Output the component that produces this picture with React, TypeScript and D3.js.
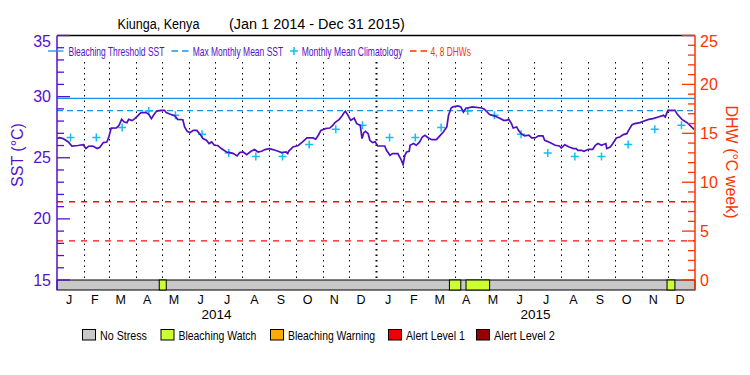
import React from "react";
import * as d3 from "d3";

// daily SST (day offset from Jan 1 2014, °C)
const sstDay = [
  0, 3, 7, 13, 17, 24, 30, 33, 36, 41, 46, 49, 53, 57, 59, 62, 68, 71, 74, 77, 80, 82, 86, 89, 92, 96,
  102, 105, 108, 111, 114, 119, 123, 125, 129, 135, 138, 144, 146, 149, 152, 156, 160, 164, 167, 171,
  174, 177, 180, 184, 188, 194, 198, 202, 206, 209, 213, 217, 222, 226, 230, 234, 238, 243, 247, 253,
  257, 262, 264, 265, 270, 276, 281, 286, 293, 296, 299, 302, 307, 312, 315, 318, 323, 326, 329, 330,
  333, 336, 338, 340, 343, 347, 349, 351, 353, 356, 358, 361, 364, 367, 375, 377, 381, 384, 390, 392,
  394, 396, 398, 400, 403, 404, 408, 411, 415, 418, 421, 425, 429, 434, 438, 442, 446, 448, 451, 453,
  459, 462, 465, 468, 470, 475, 486, 489, 495, 501, 506, 511, 514, 517, 520, 522, 526, 528, 531, 535,
  540, 543, 547, 551, 556, 558, 564, 570, 575, 577, 581, 586, 591, 594, 596, 600, 603, 608, 613, 616,
  619, 623, 628, 629, 633, 636, 640, 644, 648, 652, 654, 658, 661, 667, 671, 677, 682, 688, 694, 696,
  699, 707, 710, 715, 721, 726, 729,
];
const sstValue = [
  26.57, 26.65, 26.57, 26.29, 25.96, 26.0, 26.07, 25.75, 25.94, 25.96, 25.75, 25.86, 26.24, 26.29, 26.62,
  27.43, 27.45, 27.65, 28.14, 27.92, 27.87, 28.14, 28.04, 28.2, 28.41, 28.69, 28.69, 28.55, 28.2, 28.53,
  28.82, 28.88, 28.88, 28.69, 28.58, 28.41, 28.14, 28.11, 27.52, 27.16, 27.05, 27.24, 27.24, 26.89,
  26.57, 26.43, 26.16, 26.29, 26.02, 26.0, 25.75, 25.47, 25.42, 25.34, 25.15, 25.42, 25.47, 25.26,
  25.53, 25.67, 25.47, 25.53, 25.67, 25.75, 25.67, 25.53, 25.42, 25.47, 25.34, 25.53, 25.88, 26.0,
  26.29, 26.62, 26.62, 26.52, 26.84, 27.24, 27.38, 27.43, 27.6, 27.87, 28.14, 28.41, 28.74, 28.8, 28.47,
  28.06, 28.14, 28.25, 27.79, 27.65, 26.57, 27.05, 27.16, 26.97, 26.43, 26.24, 26.3, 25.96, 25.96,
  25.61, 25.2, 25.34, 25.34, 25.07, 24.8, 24.45, 25.2, 25.47, 25.53, 26.02, 26.16, 26.02, 26.29, 26.7,
  26.84, 26.62, 26.48, 26.48, 26.79, 27.1, 27.52, 28.47, 29.07, 29.16, 29.24, 29.16, 28.74, 29.07,
  29.07, 29.16, 29.07, 28.98, 28.53, 28.41, 28.25, 28.06, 28.06, 28.14, 27.79, 27.43, 27.52, 27.24,
  26.97, 26.79, 26.84, 26.62, 26.62, 26.79, 26.79, 26.43, 26.24, 26.02, 25.96, 25.8, 26.07, 25.88,
  25.75, 25.75, 25.61, 25.61, 25.53, 25.69, 25.69, 26.02, 26.16, 26.02, 26.16, 25.75, 25.88, 26.16,
  26.62, 26.7, 26.89, 26.97, 27.24, 27.71, 27.79, 27.87, 27.98, 28.14, 28.2, 28.33, 28.47, 28.33,
  28.88, 28.88, 28.53, 28.14, 27.87, 27.52, 27.33,
];

// monthly mean climatology, Jan..Dec (same for both years)
const climatology = [26.65, 26.65, 27.47, 28.82, 28.47, 26.92, 25.39, 25.1, 25.1, 26.08, 27.33, 27.65];
const mmm = 28.85;
const bleachingThreshold = 29.85;
const dhwLevels = [4, 8];

const monthLetters = ["J", "F", "M", "A", "M", "J", "J", "A", "S", "O", "N", "D"];
const years = [2014, 2015];
const sstTicks = d3.range(15, 36);
const dhwTicks = d3.range(0, 26);

// alert periods in the stress bar
const watchPeriods = [
  ["2014-04-28", "2014-05-06"],
  ["2015-03-26", "2015-04-08"],
  ["2015-04-14", "2015-05-11"],
  ["2015-11-30", "2015-12-09"],
];

const stressLegend = [
  { name: "No Stress", color: "#c8c8c8" },
  { name: "Bleaching Watch", color: "#ccff33" },
  { name: "Bleaching Warning", color: "#ffaa00" },
  { name: "Alert Level 1", color: "#f00000" },
  { name: "Alert Level 2", color: "#960000" },
];

const W = 750;
const H = 375;
const L = 57;
const R = 695;
const TOP = 35.5;
const BOT = 280;
const FONT = "Liberation Sans";
const PURPLE = "#5511cc";
const RED = "#ff3300";
const BLUE = "#1e90e0";
const CYAN = "#10c0f0";

const parse = d3.timeParse("%Y-%m-%d");
const start = new Date(2014, 0, 1);
const end = new Date(2016, 0, 1);

// text squeezed horizontally to a given width (the original font is narrow)
const Fit = ({ x, y, width, children, ...rest }: any) => {
  const ref = React.useRef<SVGTextElement>(null);
  const [sx, setSx] = React.useState(1);
  React.useLayoutEffect(() => {
    if (ref.current) {
      const w = ref.current.getComputedTextLength();
      if (w > 0) setSx(width / w);
    }
  }, [width]);
  return (
    <text ref={ref} transform={`translate(${x},${y}) scale(${sx},1)`} {...rest}>
      {children}
    </text>
  );
};

export default function App() {
  const x = d3.scaleTime().domain([start, end]).range([L, R]);
  const ySst = d3.scaleLinear().domain([15, 35]).range([BOT, TOP]);
  const yDhw = d3.scaleLinear().domain([0, 25]).range([BOT, TOP]);

  const pts = sstDay.map((d, i) => [d3.timeDay.offset(start, d), sstValue[i]] as [Date, number]);
  const line = d3
    .line<[Date, number]>()
    .x((d) => x(d[0]))
    .y((d) => ySst(d[1]));

  const months = d3.timeMonth.range(start, end);

  const legendX = [82, 160.5, 270, 388, 476];
  const legendW = [47, 78, 87, 59, 61];

  return (
    <svg
      width={W}
      height={H}
      style={{ position: "absolute", left: 0, top: 0, background: "#fff" }}
      fontFamily={FONT}
    >
      <rect width={W} height={H} fill="#fff" />
      {/* title */}
      <Fit x={117.5} y={28.5} width={82} fontSize={15.5}>
        Kiunga, Kenya
      </Fit>
      <Fit x={229} y={28.5} width={176} fontSize={15.5}>
        (Jan 1 2014 - Dec 31 2015)
      </Fit>

      {/* month grid */}
      {months.slice(1).map((m, i) => (
        <line
          key={i}
          x1={Math.round(x(m)) + 0.5}
          x2={Math.round(x(m)) + 0.5}
          y1={62}
          y2={BOT}
          stroke="#000"
          strokeWidth={m.getMonth() === 0 ? 2 : 1}
          strokeDasharray="1.5,4"
        />
      ))}

      {/* reference lines */}
      <line x1={L} x2={R} y1={ySst(bleachingThreshold)} y2={ySst(bleachingThreshold)} stroke={BLUE} strokeWidth={1.3} />
      <line x1={L} x2={R} y1={ySst(mmm)} y2={ySst(mmm)} stroke={BLUE} strokeWidth={1.3} strokeDasharray="6,4" />
      {dhwLevels.map((v) => (
        <line key={v} x1={L} x2={R} y1={yDhw(v)} y2={yDhw(v)} stroke="#ee1111" strokeWidth={1.3} strokeDasharray="6,6" />
      ))}

      {/* climatology */}
      {years.map((yr) =>
        climatology.map((v, i) => {
          const m0 = new Date(yr, i, 1);
          const m1 = new Date(yr, i + 1, 1);
          const cx = (x(m0) + x(m1)) / 2;
          const cy = ySst(v);
          return (
            <path
              key={`${yr}-${i}`}
              d={`M${cx - 4},${cy}H${cx + 4}M${cx},${cy - 4}V${cy + 4}`}
              stroke={CYAN}
              strokeWidth={1.5}
            />
          );
        })
      )}

      {/* SST */}
      <path d={line(pts) || ""} fill="none" stroke="#5010c0" strokeWidth={1.7} />

      {/* stress bar */}
      <rect x={L} y={BOT} width={R - L} height={10} fill="#c8c8c8" stroke="#000" strokeWidth={1} />
      {watchPeriods.map(([a, b], i) => (
        <rect
          key={i}
          x={x(parse(a)!)}
          y={BOT}
          width={x(parse(b)!) - x(parse(a)!)}
          height={10}
          fill="#ccff33"
          stroke="#000"
          strokeWidth={1}
        />
      ))}

      {/* frame */}
      <line x1={L} x2={R} y1={TOP} y2={TOP} stroke="#000" strokeWidth={1.3} />
      <line x1={L} x2={L} y1={TOP} y2={290} stroke={PURPLE} strokeWidth={1.5} />
      <line x1={R} x2={R} y1={TOP} y2={290} stroke={RED} strokeWidth={1.5} />

      {/* left axis */}
      {sstTicks.map((v) => (
        <line
          key={v}
          x1={L}
          x2={L + (v % 5 === 0 ? 13 : 7)}
          y1={ySst(v)}
          y2={ySst(v)}
          stroke={PURPLE}
          strokeWidth={1.3}
        />
      ))}
      {sstTicks
        .filter((v) => v % 5 === 0)
        .map((v) => (
          <text
            key={v}
            x={51}
            y={Math.max(ySst(v), 41)}
            fontSize={16}
            fill={PURPLE}
            textAnchor="end"
            dominantBaseline="central"
          >
            {v}
          </text>
        ))}
      <text
        transform="translate(17,155) rotate(-90)"
        fontSize={16}
        fill={PURPLE}
        textAnchor="middle"
        dominantBaseline="central"
      >
        SST (°C)
      </text>

      {/* right axis */}
      {dhwTicks.map((v) => (
        <line
          key={v}
          x1={R}
          x2={R - (v % 5 === 0 ? 13 : 7)}
          y1={yDhw(v)}
          y2={yDhw(v)}
          stroke={RED}
          strokeWidth={1.3}
        />
      ))}
      {dhwTicks
        .filter((v) => v % 5 === 0)
        .map((v) => (
          <text key={v} x={700} y={Math.max(yDhw(v), 41)} fontSize={16} fill={RED} dominantBaseline="central">
            {v}
          </text>
        ))}
      <text
        transform="translate(731,162) rotate(90)"
        fontSize={16}
        fill={RED}
        textAnchor="middle"
        dominantBaseline="central"
      >
        DHW (°C week)
      </text>

      {/* top legend */}
      <g fontSize={12}>
        <line x1={48} x2={63.5} y1={51} y2={51} stroke={BLUE} strokeWidth={1.3} />
        <Fit x={68.5} y={55.5} width={96} fill={PURPLE}>
          Bleaching Threshold SST
        </Fit>
        <line x1={171.5} x2={188.5} y1={51} y2={51} stroke={BLUE} strokeWidth={1.3} strokeDasharray="6.5,4" />
        <Fit x={192.7} y={55.5} width={90.6} fill={PURPLE}>
          Max Monthly Mean SST
        </Fit>
        <path d="M290,51H298M294,47V55" stroke={CYAN} strokeWidth={1.5} />
        <Fit x={301.7} y={55.5} width={101} fill={PURPLE}>
          Monthly Mean Climatology
        </Fit>
        <line x1={410} x2={427} y1={51} y2={51} stroke={RED} strokeWidth={1.3} strokeDasharray="6.5,4" />
        <Fit x={430.5} y={55.5} width={40.5} fill={RED}>
          4, 8 DHWs
        </Fit>
      </g>

      {/* month labels */}
      {months.map((m, i) => (
        <text
          key={i}
          x={(x(m) + x(d3.timeMonth.offset(m, 1))) / 2 - 1.5}
          y={303.5}
          fontSize={12.5}
          textAnchor="middle"
        >
          {monthLetters[m.getMonth()]}
        </text>
      ))}
      {years.map((yr) => (
        <text
          key={yr}
          x={(x(new Date(yr, 0, 1)) + x(new Date(yr + 1, 0, 1))) / 2}
          y={319}
          fontSize={13.5}
          textAnchor="middle"
        >
          {yr}
        </text>
      ))}

      {/* stress legend */}
      {stressLegend.map((s, i) => (
        <g key={s.name}>
          <rect x={legendX[i] + 0.5} y={329.5} width={13} height={10.5} fill={s.color} stroke="#000" strokeWidth={1} />
          <Fit x={legendX[i] + 18} y={340} width={legendW[i]} fontSize={12.5}>
            {s.name}
          </Fit>
        </g>
      ))}
    </svg>
  );
}
